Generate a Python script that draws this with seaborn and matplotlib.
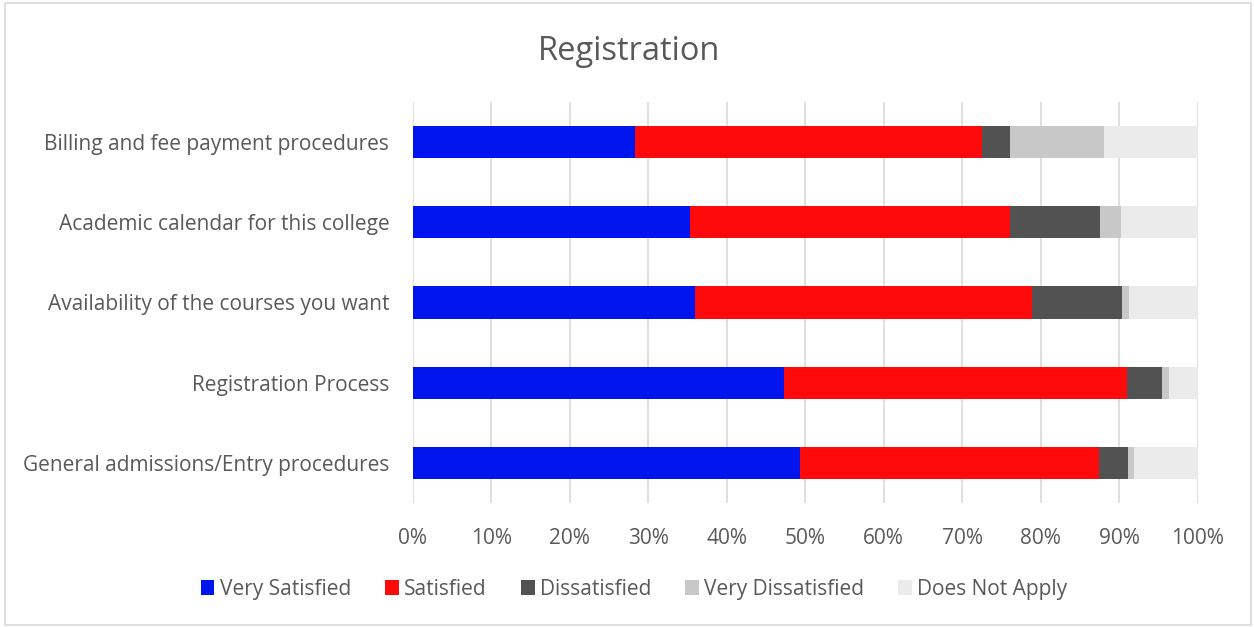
import numpy as np
import pandas as pd
import matplotlib
matplotlib.use("Agg")
import matplotlib.pyplot as plt
from matplotlib.patches import Patch, Rectangle
from matplotlib.ticker import FuncFormatter
import seaborn as sns

# Survey items, top to bottom
categories = [
    "Billing and fee payment procedures",
    "Academic calendar for this college",
    "Availability of the courses you want",
    "Registration Process",
    "General admissions/Entry procedures",
]

# Response shares (%) for each item
very_satisfied = [28.3, 35.3, 35.9, 47.3, 49.3]
satisfied = [44.2, 40.8, 43.0, 43.7, 38.2]
dissatisfied = [3.6, 11.5, 11.5, 4.5, 3.6]
very_dissatisfied = [12.0, 2.7, 0.8, 0.9, 0.8]
does_not_apply = [11.9, 9.7, 8.8, 3.6, 8.1]

series_names = ["Very Satisfied", "Satisfied", "Dissatisfied",
                "Very Dissatisfied", "Does Not Apply"]
series_values = [very_satisfied, satisfied, dissatisfied,
                 very_dissatisfied, does_not_apply]
series_colors = ["#0014EE", "#FF0A0A", "#525252", "#C8C8C8", "#EBEBEB"]

x_ticks = [0, 10, 20, 30, 40, 50, 60, 70, 80, 90, 100]

sns.set_theme(style="white")
plt.rcParams["font.family"] = ["Open Sans", "DejaVu Sans"]
text_color = "#595959"
grid_color = "#D9D9D9"

fig = plt.figure(figsize=(12.54, 6.27), dpi=100)
ax = fig.add_axes([0.3293, 0.1978, 0.6257, 0.6395])

df = pd.DataFrame({name: vals for name, vals in zip(series_names, series_values)})
cum = df.cumsum(axis=1)
cum["Item"] = categories

# Stacked bars: draw cumulative totals from the outermost segment inward
for name, color in reversed(list(zip(series_names, series_colors))):
    sns.barplot(data=cum, x=name, y="Item", order=categories, orient="h",
                color=color, width=0.4, saturation=1, linewidth=0, ax=ax)

ax.set_xlim(0, 100)
ax.set_xticks(x_ticks)
ax.xaxis.set_major_formatter(FuncFormatter(lambda v, p: f"{v:.0f}%"))
ax.set_xlabel("")
ax.set_ylabel("")
ax.grid(axis="x", color=grid_color, linewidth=1.2)
ax.grid(axis="y", visible=False)
ax.set_axisbelow(True)
for s in ax.spines.values():
    s.set_visible(False)
ax.tick_params(axis="both", length=0, labelsize=15, labelcolor=text_color)
ax.tick_params(axis="x", pad=18)
ax.tick_params(axis="y", pad=17)

fig.text(0.502, 0.918, "Registration", ha="center", va="center",
         fontsize=23.5, color=text_color)

handles = [Patch(facecolor=c, edgecolor="none", label=n)
           for n, c in zip(series_names, series_colors)]
fig.legend(handles=handles, loc="center", bbox_to_anchor=(0.5056, 0.060),
           ncol=5, frameon=False, fontsize=15, labelcolor=text_color,
           handlelength=0.67, handleheight=0.67, handletextpad=0.25,
           columnspacing=1.63, borderpad=0)

# Chart border
fig.patches.append(Rectangle((5 / 1254, 2 / 627), 1246 / 1254, 622 / 627,
                             transform=fig.transFigure, fill=False,
                             edgecolor=grid_color, linewidth=1.2))

fig.savefig("out.png", dpi=100, facecolor="white")
